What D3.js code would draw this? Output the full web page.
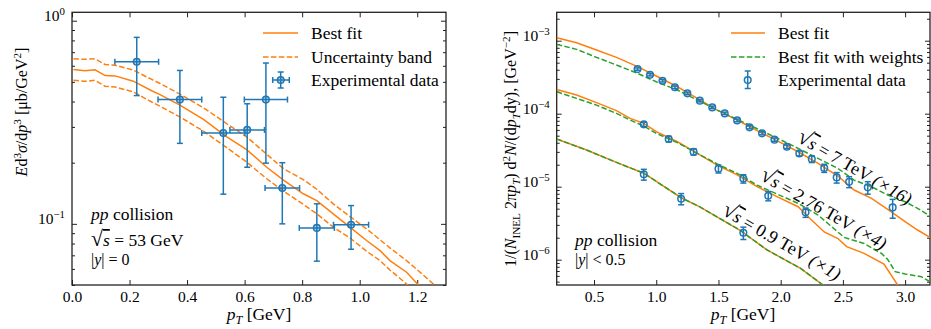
<!DOCTYPE html>
<html>
<head>
<meta charset="utf-8">
<script src="https://cdn.jsdelivr.net/npm/d3@7"></script>
<style>
body { margin: 0; background: #fff; }
svg, svg text { font-family: "Liberation Serif", "DejaVu Serif", serif; }
</style>
</head>
<body>
<svg id="chart" width="931" height="329"></svg>
<script>

// ---- left panel: pp at sqrt(s) = 53 GeV ----
const pt_53_fit = [0.005,0.045,0.08,0.115,0.15,0.213,0.277,0.306,0.375,0.457,0.538,0.607,0.677,0.735,0.804,0.851,0.908,0.966,1.024,1.071,1.105,1.163,1.21,1.256,1.3];
const best_53  = [0.575,0.567,0.573,0.537,0.535,0.504,0.452,0.433,0.384,0.327,0.268,0.232,0.19,0.164,0.1406,0.130,0.112,0.0963,0.0828,0.0738,0.0659,0.0578,0.049,0.0425,0.037];
const upper_53 = [0.649,0.646,0.649,0.609,0.604,0.571,0.514,0.491,0.435,0.373,0.311,0.268,0.22,0.187,0.165,0.148,0.1255,0.1086,0.0945,0.0834,0.0762,0.0659,0.0578,0.0506,0.044];
const lower_53 = [0.509,0.503,0.509,0.476,0.472,0.446,0.398,0.379,0.336,0.286,0.237,0.2015,0.1667,0.145,0.1246,0.112,0.0963,0.0853,0.0733,0.0659,0.0593,0.0506,0.044,0.039,0.034];

const exp_53_pt   = [0.225,0.375,0.526,0.609,0.674,0.731,0.851,0.970];
const exp_53_pterr= [0.076,0.076,0.075,0.060,0.075,0.060,0.061,0.061];
const exp_53_val  = [0.628,0.409,0.280,0.290,0.409,0.150,0.0955,0.099];
const exp_53_err  = [0.200,0.160,0.140,0.100,0.210,0.050,0.030,0.024];

// ---- right panel: pp at 7, 2.76, 0.9 TeV (scaled) ----
const pt_fit_7 = [0.2,0.36,0.52,0.68,0.85,1.0,1.17,1.33,1.49,1.65,1.81,1.97,2.14,2.3,2.46,2.59,2.73,2.86,3.0,3.1,3.2];
const best_7 = [1.10e-3,9.39e-4,7.45e-4,5.91e-4,4.41e-4,3.28e-4,2.34e-4,1.62e-4,1.12e-4,8.19e-5,5.85e-5,4.27e-5,3.01e-5,2.09e-5,1.40e-5,9.0e-6,6.92e-6,4.89e-6,3.32e-6,2.55e-6,2.02e-6];
const weighted_7 = [8.91e-4,7.61e-4,5.91e-4,4.65e-4,3.57e-4,2.74e-4,2.11e-4,1.54e-4,1.12e-4,8.36e-5,6.23e-5,4.64e-5,3.35e-5,2.44e-5,1.78e-5,1.23e-5,1.0e-5,7.69e-6,6.23e-6,5.05e-6,3.96e-6];

const pt_best_276 = [0.2,0.36,0.52,0.68,0.79,0.9,1.0,1.17,1.33,1.49,1.65,1.81,1.97,2.14,2.24,2.35,2.46,2.53,2.67,2.83,2.94,3.0];
const best_276 = [2.15e-4,1.80e-4,1.42e-4,1.10e-4,8.63e-5,7.38e-5,5.67e-5,4.13e-5,2.86e-5,1.98e-5,1.45e-5,1.0e-5,7.3e-6,5.32e-6,3.6e-6,2.4e-6,1.95e-6,1.51e-6,1.22e-6,8.73e-7,4.5e-7,3.0e-7];
const pt_weighted_276 = [0.2,0.36,0.52,0.68,0.79,0.9,1.0,1.17,1.33,1.49,1.65,1.81,1.97,2.14,2.3,2.41,2.51,2.67,2.81,2.86,2.92,3.0,3.13,3.2];
const weighted_276 = [2.0e-4,1.62e-4,1.31e-4,1.01e-4,8.19e-5,6.78e-5,5.38e-5,4.01e-5,2.86e-5,2.05e-5,1.52e-5,1.05e-5,7.94e-6,5.92e-6,4.09e-6,2.83e-6,2.02e-6,1.67e-6,1.22e-6,1.01e-6,6.86e-7,6.37e-7,5.85e-7,5.0e-7];

const pt_fit_09 = [0.2,0.44,0.68,0.9,1.2,1.35,1.67,1.89,2.16,2.34,2.5];
const best_09 = [4.5e-5,3.18e-5,2.15e-5,1.53e-5,7.06e-6,5.3e-6,2.55e-6,1.36e-6,7.6e-7,4.5e-7,2.5e-7];
const weighted_09 = best_09; // the two fits coincide at 0.9 TeV

const exp_7_pt  = [0.85,0.95,1.05,1.15,1.25,1.35,1.45,1.55,1.65,1.75,1.85,1.95,2.05,2.15,2.25,2.35,2.45,2.55,2.7,2.9];
const exp_7_val = [4.09e-4,3.42e-4,2.83e-4,2.30e-4,1.90e-4,1.51e-4,1.22e-4,1.01e-4,8.1e-5,6.5e-5,5.38e-5,4.41e-5,3.53e-5,2.86e-5,2.39e-5,1.80e-5,1.34e-5,1.17e-5,9.8e-6,5.2e-6];
const exp_7_err = [1.5e-5,1.3e-5,1.1e-5,9e-6,8e-6,6e-6,5e-6,4e-6,3.5e-6,3e-6,2.5e-6,2.2e-6,2e-6,2.2e-6,2.5e-6,2.3e-6,2.2e-6,2e-6,1.9e-6,1.5e-6];
const exp_276_pt  = [0.9,1.1,1.3,1.5,1.7,1.9,2.2];
const exp_276_val = [7.15e-5,4.5e-5,3.01e-5,1.76e-5,1.29e-5,7.5e-6,4.45e-6];
const exp_276_err = [5e-6,4e-6,3e-6,2.2e-6,1.7e-6,1.1e-6,6.5e-7];
const exp_09_pt  = [0.9,1.2,1.7];
const exp_09_val = [1.48e-5,6.85e-6,2.34e-6];
const exp_09_err = [2.5e-6,1.2e-6,4.5e-7];

const x_ticks_left = [0,0.2,0.4,0.6,0.8,1.0,1.2];
const x_ticks_right = [0.5,1.0,1.5,2.0,2.5,3.0];

const C_BLUE = '#1f77b4', C_ORANGE = '#ff7f0e', C_GREEN = '#2ca02c';
const FS = 17.5, TICK_FS = 15.5, LABEL_FS = 16;
const SERIF = '"Liberation Serif", "DejaVu Serif", serif';

const svg = d3.select('#chart').attr('font-family', SERIF);

// text made of pieces: italic, superscript, subscript, overline
const rich = function(sel, parts, fs){
	let off = 0;
	parts.forEach(p => {
		const small = p.sup || p.sub;
		const shift = p.sup ? -0.38*fs : (p.sub ? 0.22*fs : 0);
		const ts = sel.append('tspan').text(p.t)
			.attr('dy', shift - off)
			.attr('font-size', small ? fs*0.7 : (p.big ? fs*p.big : fs));
		if(p.i) ts.attr('font-style','italic');
		if(p.over) ts.attr('text-decoration','overline');
		off = shift;
	});
	return sel;
};

const minor_log = function(dom){
	const out = [];
	const lo = Math.floor(Math.log10(dom[0])), hi = Math.ceil(Math.log10(dom[1]));
	for(let e=lo; e<hi; e++){
		for(let m=2; m<10; m++){
			const v = m*Math.pow(10,e);
			if(v >= dom[0] && v <= dom[1]) out.push(v);
		}
	}
	return out;
};

const make_panel = function(cfg){
	const x = d3.scaleLinear(cfg.xdom, [cfg.x0, cfg.x1]);
	const y = d3.scaleLog(cfg.ydom, [cfg.y1, cfg.y0]);
	const g = svg.append('g');

	g.append('clipPath').attr('id', cfg.id + '-clip')
		.append('rect')
			.attr('x', cfg.x0).attr('y', cfg.y0)
			.attr('width', cfg.x1 - cfg.x0).attr('height', cfg.y1 - cfg.y0);

	const style_axis = sel => {
		sel.select('.domain').remove();
		sel.attr('font-family', SERIF).attr('font-size', TICK_FS);
		sel.selectAll('line').attr('stroke', '#222').attr('stroke-width', 1);
		sel.selectAll('text').attr('fill', '#000');
	};

	g.append('g').attr('transform', `translate(0,${cfg.y1})`)
		.call(d3.axisBottom(x).tickValues(cfg.xticks).tickSize(-5).tickPadding(6).tickFormat(d3.format('.1f')))
		.call(style_axis);
	g.append('g').attr('transform', `translate(0,${cfg.y0})`)
		.call(d3.axisTop(x).tickValues(cfg.xticks).tickSize(-5).tickFormat(''))
		.call(style_axis);

	const left_ax = g.append('g').attr('transform', `translate(${cfg.x0},0)`)
		.call(d3.axisLeft(y).tickValues(cfg.yticks).tickSize(-5).tickPadding(7).tickFormat(''))
		.call(style_axis);
	left_ax.selectAll('.tick text').each(function(d){
		const e = Math.round(Math.log10(d));
		d3.select(this).attr('dy', '0.32em')
			.call(t => rich(t, [{t:'10'}, {t: (e < 0 ? '\u2212' : '') + Math.abs(e), sup:true}], TICK_FS));
	});
	g.append('g').attr('transform', `translate(${cfg.x0},0)`)
		.call(d3.axisLeft(y).tickValues(minor_log(cfg.ydom)).tickSize(-3).tickFormat(''))
		.call(style_axis);
	g.append('g').attr('transform', `translate(${cfg.x1},0)`)
		.call(d3.axisRight(y).tickValues(cfg.yticks).tickSize(-5).tickFormat(''))
		.call(style_axis);
	g.append('g').attr('transform', `translate(${cfg.x1},0)`)
		.call(d3.axisRight(y).tickValues(minor_log(cfg.ydom)).tickSize(-3).tickFormat(''))
		.call(style_axis);

	g.append('rect')
		.attr('x', cfg.x0).attr('y', cfg.y0)
		.attr('width', cfg.x1 - cfg.x0).attr('height', cfg.y1 - cfg.y0)
		.attr('fill', 'none').attr('stroke', '#222').attr('stroke-width', 1.3);

	const plot = g.append('g').attr('clip-path', `url(#${cfg.id}-clip)`);
	return {g, x, y, plot};
};

const draw_line = function(p, xs, ys, color, dashed){
	const line = d3.line().x((d,i) => p.x(xs[i])).y(d => p.y(d));
	p.plot.append('path')
		.attr('d', line(ys))
		.attr('fill', 'none')
		.attr('stroke', color)
		.attr('stroke-width', 1.5)
		.attr('stroke-dasharray', dashed ? '5.5,2.4' : null);
};

const draw_points = function(p, xs, ys, yerr, xerr){
	const grp = p.g.append('g').attr('stroke', C_BLUE).attr('stroke-width', 1.5);
	const cap = 3;
	xs.forEach((xv, i) => {
		const cx = p.x(xv), cy = p.y(ys[i]);
		const yt = p.y(ys[i] + yerr[i]), yb = p.y(ys[i] - yerr[i]);
		grp.append('line').attr('x1', cx).attr('x2', cx).attr('y1', yt).attr('y2', yb);
		grp.append('line').attr('x1', cx-cap).attr('x2', cx+cap).attr('y1', yt).attr('y2', yt);
		grp.append('line').attr('x1', cx-cap).attr('x2', cx+cap).attr('y1', yb).attr('y2', yb);
		if(xerr){
			const xl = p.x(xv - xerr[i]), xr = p.x(xv + xerr[i]);
			grp.append('line').attr('x1', xl).attr('x2', xr).attr('y1', cy).attr('y2', cy);
			grp.append('line').attr('x1', xl).attr('x2', xl).attr('y1', cy-cap).attr('y2', cy+cap);
			grp.append('line').attr('x1', xr).attr('x2', xr).attr('y1', cy-cap).attr('y2', cy+cap);
		}
		grp.append('circle').attr('cx', cx).attr('cy', cy).attr('r', 3.3)
			.attr('fill', xerr ? C_BLUE : 'none').attr('fill-opacity', xerr ? 0.35 : null);
	});
};

// ---------------- left panel ----------------
const left = make_panel({id:'left', xdom:[0,1.3], ydom:[0.05,1.1], x0:72, x1:446, y0:12.3, y1:285,
	xticks:x_ticks_left, yticks:[1,0.1]});

draw_line(left, pt_53_fit, upper_53, C_ORANGE, true);
draw_line(left, pt_53_fit, lower_53, C_ORANGE, true);
draw_line(left, pt_53_fit, best_53, C_ORANGE, false);
draw_points(left, exp_53_pt, exp_53_val, exp_53_err, exp_53_pterr);

// legend
const leg_l = svg.append('g').attr('font-size', FS);
leg_l.append('line').attr('x1',263).attr('x2',298).attr('y1',33).attr('y2',33).attr('stroke',C_ORANGE).attr('stroke-width',1.5);
leg_l.append('line').attr('x1',263).attr('x2',298).attr('y1',57).attr('y2',57).attr('stroke',C_ORANGE).attr('stroke-width',1.5).attr('stroke-dasharray','5.5,2.4');
const lm = leg_l.append('g').attr('stroke',C_BLUE).attr('stroke-width',1.5);
lm.append('line').attr('x1',272.7).attr('x2',289.3).attr('y1',80).attr('y2',80);
lm.append('line').attr('x1',280.7).attr('x2',280.7).attr('y1',72).attr('y2',88);
lm.append('line').attr('x1',272.7).attr('x2',272.7).attr('y1',77).attr('y2',83);
lm.append('line').attr('x1',289.3).attr('x2',289.3).attr('y1',77).attr('y2',83);
lm.append('line').attr('x1',277.7).attr('x2',283.7).attr('y1',72).attr('y2',72);
lm.append('line').attr('x1',277.7).attr('x2',283.7).attr('y1',88).attr('y2',88);
lm.append('circle').attr('cx',280.7).attr('cy',80).attr('r',3.3).attr('fill',C_BLUE).attr('fill-opacity',0.35);
['Best fit','Uncertainty band','Experimental data'].forEach((t,i) => {
	leg_l.append('text').attr('x',311).attr('y',39 + i*23.5).text(t);
});

// annotation
svg.append('text').attr('x',91).attr('y',220).attr('font-size',FS)
	.call(t => rich(t, [{t:'pp', i:true}, {t:' collision'}], FS));
svg.append('text').attr('x',91).attr('y',246).attr('font-size',FS)
	.call(t => rich(t, [{t:'\u221a', big:1.25}, {t:'s', i:true, over:true}, {t:' = 53 GeV'}], FS));
svg.append('text').attr('x',91).attr('y',265).attr('font-size',16)
	.call(t => rich(t, [{t:'|'}, {t:'y', i:true}, {t:'| = 0'}], 16));

// axis labels
svg.append('text').attr('x',259).attr('y',320).attr('text-anchor','middle').attr('font-size',FS)
	.call(t => rich(t, [{t:'p', i:true}, {t:'T', i:true, sub:true}, {t:' [GeV]'}], FS));
svg.append('text').attr('transform','translate(27,112) rotate(-90)').attr('text-anchor','middle').attr('font-size',LABEL_FS)
	.call(t => rich(t, [{t:'E', i:true}, {t:'d'}, {t:'3', sup:true}, {t:'\u03c3', i:true}, {t:'/d'}, {t:'p', i:true}, {t:'3', sup:true},
		{t:' [\u03bcb/GeV'}, {t:'2', sup:true}, {t:']'}], LABEL_FS));

// ---------------- right panel ----------------
const right = make_panel({id:'right', xdom:[0.2,3.2], ydom:[4.5e-7,2.45e-3], x0:556.7, x1:930, y0:12.3, y1:285,
	xticks:x_ticks_right, yticks:[1e-3,1e-4,1e-5,1e-6]});

draw_line(right, pt_fit_7, best_7, C_ORANGE, false);
draw_line(right, pt_fit_7, weighted_7, C_GREEN, true);
draw_line(right, pt_best_276, best_276, C_ORANGE, false);
draw_line(right, pt_weighted_276, weighted_276, C_GREEN, true);
draw_line(right, pt_fit_09, best_09, C_ORANGE, false);
draw_line(right, pt_fit_09, weighted_09, C_GREEN, true);
draw_points(right, exp_7_pt, exp_7_val, exp_7_err);
draw_points(right, exp_276_pt, exp_276_val, exp_276_err);
draw_points(right, exp_09_pt, exp_09_val, exp_09_err);

const leg_r = svg.append('g').attr('font-size', FS);
leg_r.append('line').attr('x1',731).attr('x2',765).attr('y1',33).attr('y2',33).attr('stroke',C_ORANGE).attr('stroke-width',1.5);
leg_r.append('line').attr('x1',731).attr('x2',765).attr('y1',57).attr('y2',57).attr('stroke',C_GREEN).attr('stroke-width',1.5).attr('stroke-dasharray','5.5,2.4');
const rm = leg_r.append('g').attr('stroke',C_BLUE).attr('stroke-width',1.5);
rm.append('line').attr('x1',747.7).attr('x2',747.7).attr('y1',71).attr('y2',88.5);
rm.append('line').attr('x1',744.7).attr('x2',750.7).attr('y1',71).attr('y2',71);
rm.append('line').attr('x1',744.7).attr('x2',750.7).attr('y1',88.5).attr('y2',88.5);
rm.append('circle').attr('cx',747.7).attr('cy',80).attr('r',3.3).attr('fill','none');
['Best fit','Best fit with weights','Experimental data'].forEach((t,i) => {
	leg_r.append('text').attr('x',778).attr('y',39 + i*23.5).text(t);
});

svg.append('text').attr('x',575).attr('y',246).attr('font-size',FS)
	.call(t => rich(t, [{t:'pp', i:true}, {t:' collision'}], FS));
svg.append('text').attr('x',575).attr('y',265).attr('font-size',16)
	.call(t => rich(t, [{t:'|'}, {t:'y', i:true}, {t:'| < 0.5'}], 16));

// rotated energy labels
const energy_labels = [
	{x:796, y:141, energy:'7', scale:'16'},
	{x:759, y:179, energy:'2.76', scale:'4'},
	{x:721, y:214, energy:'0.9', scale:'1'}
];
energy_labels.forEach(d => {
	svg.append('text').attr('transform', `translate(${d.x},${d.y}) rotate(30)`).attr('font-size',18)
		.call(t => rich(t, [{t:'\u221a', big:1.25}, {t:'s', i:true, over:true}, {t:' = ' + d.energy + ' TeV '},
			{t:'(\u00d7' + d.scale + ')', i:true}], 18));
});

svg.append('text').attr('x',743).attr('y',320).attr('text-anchor','middle').attr('font-size',FS)
	.call(t => rich(t, [{t:'p', i:true}, {t:'T', i:true, sub:true}, {t:' [GeV]'}], FS));
svg.append('text').attr('transform','translate(516,149) rotate(-90)').attr('text-anchor','middle').attr('font-size',LABEL_FS)
	.call(t => rich(t, [{t:'1/('}, {t:'N', i:true}, {t:'INEL', sub:true}, {t:' 2\u03c0'}, {t:'p', i:true}, {t:'T', i:true, sub:true},
		{t:') d'}, {t:'2', sup:true}, {t:'N', i:true}, {t:'/(d'}, {t:'p', i:true}, {t:'T', i:true, sub:true}, {t:'dy), [GeV'},
		{t:'\u22122', sup:true}, {t:']'}], LABEL_FS));

</script>
</body>
</html>
